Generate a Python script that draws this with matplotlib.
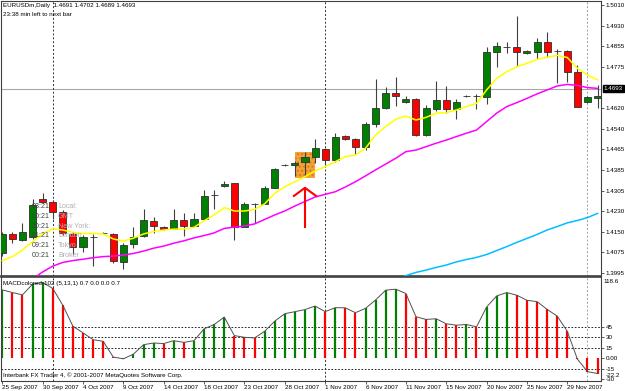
import numpy as np
import matplotlib
matplotlib.use("Agg")
import matplotlib.pyplot as plt
from matplotlib.patches import Rectangle

plt.rcParams['font.family'] = ['Liberation Sans', 'DejaVu Sans']
FS = 4.5

# ---- data ----
dates = ['25 Sep 2007', '30 Sep 2007', '4 Oct 2007', '9 Oct 2007', '14 Oct 2007',
         '18 Oct 2007', '23 Oct 2007', '28 Oct 2007', '1 Nov 2007', '6 Nov 2007',
         '11 Nov 2007', '15 Nov 2007', '20 Nov 2007', '25 Nov 2007', '29 Nov 2007']

opens = [1.4070, 1.4143, 1.4120, 1.4130, 1.4274, 1.4265, 1.4227, 1.4143, 1.4092, 1.4131,
         1.4146, 1.4143, 1.4038, 1.4104, 1.4136, 1.4192, 1.4168, 1.4162, 1.4196, 1.4173,
         1.4200, 1.4291, 1.4325, 1.4335, 1.4170, 1.4257, 1.4257, 1.4318, 1.4404, 1.4404,
         1.4415, 1.4436, 1.4465, 1.4423, 1.4514, 1.4502, 1.4474, 1.4560, 1.4619, 1.4676,
         1.4644, 1.4656, 1.4518, 1.4617, 1.4651, 1.4617, 1.4667, 1.4666, 1.4663, 1.4832,
         1.4853, 1.4851, 1.4828, 1.4832, 1.4872, 1.4837, 1.4838, 1.4756, 1.4645, 1.4657]
highs = [1.4152, 1.4152, 1.4186, 1.4274, 1.4297, 1.4270, 1.4232, 1.4152, 1.4139, 1.4143,
         1.4150, 1.4146, 1.4107, 1.4168, 1.4236, 1.4208, 1.4172, 1.4238, 1.4224, 1.4224,
         1.4310, 1.4310, 1.4345, 1.4338, 1.4265, 1.4262, 1.4325, 1.4392, 1.4408, 1.4420,
         1.4452, 1.4503, 1.4470, 1.4527, 1.4517, 1.4505, 1.4566, 1.4731, 1.4701, 1.4737,
         1.4665, 1.4660, 1.4632, 1.4724, 1.4704, 1.4655, 1.4670, 1.4675, 1.4851, 1.4870,
         1.4872, 1.4969, 1.4840, 1.4885, 1.4908, 1.4845, 1.4842, 1.4784, 1.4665, 1.4708]
lows = [1.4060, 1.4108, 1.4117, 1.4122, 1.4260, 1.4200, 1.4140, 1.4063, 1.4076, 1.4020,
        1.4141, 1.4032, 1.4009, 1.4089, 1.4133, 1.4148, 1.4158, 1.4160, 1.4136, 1.4170,
        1.4198, 1.4238, 1.4320, 1.4120, 1.4168, 1.4183, 1.4255, 1.4316, 1.4400, 1.4362,
        1.4368, 1.4411, 1.4404, 1.4417, 1.4498, 1.4446, 1.4461, 1.4550, 1.4615, 1.4628,
        1.4640, 1.4514, 1.4514, 1.4610, 1.4600, 1.4579, 1.4664, 1.4617, 1.4636, 1.4777,
        1.4828, 1.4781, 1.4825, 1.4805, 1.4813, 1.4714, 1.4720, 1.4624, 1.4640, 1.4619]
closes = [1.4143, 1.4123, 1.4152, 1.4253, 1.4265, 1.4227, 1.4148, 1.4095, 1.4130, 1.4131,
          1.4146, 1.4042, 1.4101, 1.4133, 1.4196, 1.4173, 1.4160, 1.4196, 1.4174, 1.4200,
          1.4288, 1.4291, 1.4332, 1.4168, 1.4255, 1.4257, 1.4318, 1.4389, 1.4404, 1.4411,
          1.4436, 1.4468, 1.4423, 1.4509, 1.4502, 1.4472, 1.4560, 1.4619, 1.4676, 1.4667,
          1.4655, 1.4518, 1.4619, 1.4651, 1.4617, 1.4645, 1.4667, 1.4666, 1.4832, 1.4857,
          1.4853, 1.4834, 1.4837, 1.4872, 1.4834, 1.4837, 1.4756, 1.4626, 1.4661, 1.4667]

ma_fast = [1.4042, 1.4057, 1.4082, 1.4114, 1.4143, 1.4162, 1.4158, 1.4149, 1.4145, 1.4145,
           1.4143, 1.4124, 1.4116, 1.4127, 1.4143, 1.4152, 1.4158, 1.4161, 1.4162, 1.4168,
           1.4193, 1.4215, 1.4243, 1.4230, 1.4230, 1.4236, 1.4257, 1.4297, 1.4322, 1.4341,
           1.4360, 1.4382, 1.4398, 1.4417, 1.4436, 1.4442, 1.4468, 1.4518, 1.4550, 1.4578,
           1.4590, 1.4575, 1.4585, 1.4601, 1.4603, 1.4613, 1.4626, 1.4638, 1.4689, 1.4733,
           1.4758, 1.4777, 1.4790, 1.4805, 1.4813, 1.4820, 1.4812, 1.4771, 1.4746, 1.4727]
nan = np.nan
ma_mid = [nan, nan, nan, 1.3972, 1.3999, 1.4021, 1.4035, 1.4042, 1.4047, 1.4053,
          1.4057, 1.4059, 1.4063, 1.4069, 1.4078, 1.4089, 1.4097, 1.4108, 1.4117, 1.4128,
          1.4137, 1.4147, 1.4164, 1.4169, 1.4173, 1.4181, 1.4198, 1.4215, 1.4230, 1.4249,
          1.4266, 1.4283, 1.4293, 1.4303, 1.4321, 1.4341, 1.4363, 1.4386, 1.4408, 1.4430,
          1.4455, 1.4461, 1.4474, 1.4487, 1.4499, 1.4512, 1.4525, 1.4537, 1.4569, 1.4601,
          1.4626, 1.4641, 1.4657, 1.4674, 1.4689, 1.4704, 1.4710, 1.4706, 1.4698, 1.4695]
ma_slow = [nan] * 39 + [1.3973, 1.3985, 1.3997, 1.4006, 1.4016, 1.4025, 1.4037, 1.4046, 1.4054,
                        1.4065, 1.4080, 1.4095, 1.4111, 1.4126, 1.4141, 1.4158, 1.4171, 1.4185,
                        1.4194, 1.4205, 1.4221]

macd = [98.4, 94.6, 91.2, 106.7, 109.2, 100.5, 76.1, 46.0, 36.4, 26.6,
        24.2, 1.5, -1.0, 5.8, 19.4, 21.8, 21.0, 25.2, 22.7, 25.2,
        42.2, 48.5, 59.1, 32.5, 30.0, 29.1, 38.7, 53.3, 64.1, 67.0,
        70.0, 75.1, 67.0, 72.8, 72.5, 65.5, 71.8, 83.9, 98.0, 99.4,
        93.2, 59.7, 55.8, 56.8, 49.5, 47.5, 48.5, 45.1, 73.7, 89.7,
        94.6, 90.7, 83.4, 81.5, 70.3, 60.6, 38.7, -1.5, -19.5, -22.2]

price_ticks = [1.5010, 1.4930, 1.4855, 1.4775, 1.4620, 1.4540, 1.4465, 1.4385,
               1.4305, 1.4230, 1.4150, 1.4075, 1.3995]
bid = 1.4693
macd_levels = [45, 30, 15, -15]
macd_ticks = [45, 30, 15, 0, -15, -30]
macd_tick_labels = ['45', '30', '15', '0.00', '-15', '-30']
separators = [5, 32, 58]

box_bars = (29, 31)
box_prices = (1.4356, 1.4453)
arrow_bar = 30
arrow_tip, arrow_tail, arrow_wing = 1.4318, 1.4164, 1.4287

clock_times = ['03:21', '00:21', '20:21', '01:21', '09:21', '00:21']
clock_names = ['Local:', 'GMT', 'New York:', 'London', 'Tokyo', 'Broker']

# ---- layout ----
W, H = 625, 391
fig = plt.figure(figsize=(W / 100, H / 100), dpi=100)
fig.patch.set_facecolor('white')


def fx(x):
    return x / W


def fy(y):
    return 1 - y / H


ax = fig.add_axes([fx(1.5), fy(276), (601 - 1.5) / W, (276 - 0.5) / H])
ax2 = fig.add_axes([fx(1.5), fy(381), (601 - 1.5) / W, (381 - 277) / H])

n = len(closes)
x = np.arange(n)
frame = '#404040'

# candles
for i in range(n):
    o, h, l, c = opens[i], highs[i], lows[i], closes[i]
    col = '#008000' if c >= o else '#ff0000'
    ax.vlines(i, l, h, color='#404040', lw=0.8, zorder=3)
    ax.add_patch(Rectangle((i - 0.35, min(o, c)), 0.7, abs(c - o), facecolor=col,
                           edgecolor='#303030', lw=0.6, zorder=4))

ax.add_patch(Rectangle((box_bars[0], box_prices[0]), box_bars[1] - box_bars[0],
                       box_prices[1] - box_prices[0], facecolor='#f4a238',
                       edgecolor='#d67d1c', hatch='....', lw=0, zorder=2))

ax.plot(x, ma_fast, color='#ffff00', lw=1.1, zorder=5)
ax.plot(x, ma_mid, color='#ff00ff', lw=1.1, zorder=5)
ax.plot(x, ma_slow, color='#00bfff', lw=1.1, zorder=5)

ax.axhline(bid, color='#a8a8a8', lw=0.8, zorder=1)

# red arrow
ax.plot([arrow_bar, arrow_bar], [arrow_tail, arrow_tip], color='#ff0000', lw=1.5, zorder=6,
        solid_capstyle='butt')
ax.plot([arrow_bar - 1.1, arrow_bar, arrow_bar + 1.1], [arrow_wing, arrow_tip, arrow_wing],
        color='#ff0000', lw=1.5, zorder=6)

# macd panel
up = [True] + [macd[i] > macd[i - 1] for i in range(1, n)]
ax2.vlines(x, 0, macd, colors=['#008000' if u else '#ff0000' for u in up], lw=1.6, zorder=2)
ax2.plot(x, macd, color='#505050', lw=0.7, zorder=3)
for lv in macd_levels:
    ax2.axhline(lv, color='black', lw=0.6, ls=(0, (2, 2)), zorder=1)

for b in separators:
    c = '#303030' if b != 58 else '#a095b5'
    ax.axvline(b, color=c, lw=0.7, ls=(0, (2, 2)), zorder=1)
    ax2.axvline(b, color=c, lw=0.7, ls=(0, (2, 2)), zorder=1)

for a in (ax, ax2):
    a.set_xlim(-0.08, 59.34)
    for s in a.spines.values():
        s.set_color(frame)
        s.set_linewidth(0.8)
    a.yaxis.tick_right()
    a.tick_params(axis='y', direction='out', length=2.5, width=0.6, pad=1,
                  labelsize=FS, color=frame)

ax.spines['bottom'].set_linewidth(1.2)
ax2.spines['top'].set_linewidth(1.2)

ax.set_ylim(1.39835, 1.50282)
ax.set_yticks(price_ticks)
ax.set_yticklabels(['%.4f' % p for p in price_ticks])
ax.set_xticks([])

ax.annotate('%.4f' % bid, xy=(1, bid), xycoords=('axes fraction', 'data'),
            xytext=(2, 0), textcoords='offset points', ha='left', va='center',
            color='white', fontsize=FS,
            bbox=dict(boxstyle='square,pad=0.15', fc='black', ec='black'))

ax2.set_ylim(-33.0, 117.0)
ax2.set_yticks(macd_ticks)
ax2.set_yticklabels(macd_tick_labels)
ax2.annotate('118.6', xy=(1, 1), xycoords='axes fraction', xytext=(1.5, -1.5),
             textcoords='offset points', ha='left', va='top', fontsize=FS)
ax2.annotate('-22.2', xy=(1, -24.5), xycoords=('axes fraction', 'data'), xytext=(3.5, 0),
             textcoords='offset points', ha='left', va='center', fontsize=FS)

ax2.set_xticks(np.arange(0, n, 4))
ax2.set_xticklabels(dates, ha='left')
ax2.tick_params(axis='x', direction='out', length=2, width=0.6, pad=1, labelsize=FS,
                color=frame)

# texts
fig.text(fx(3), fy(5), 'EURUSDm,Daily  1.4691 1.4702 1.4689 1.4693', fontsize=FS,
         va='center', ha='left')
fig.text(fx(3), fy(14), '23:38 min left to next bar', fontsize=FS, va='center', ha='left')
for k, (t, nm) in enumerate(zip(clock_times, clock_names)):
    yy = 206.5 + 9.8 * k
    fig.text(fx(50), fy(yy), t, fontsize=FS + 0.6, va='center', ha='right', color='#404040',
             zorder=10)
    fig.text(fx(58), fy(yy), nm, fontsize=FS + 0.6, va='center', ha='left', color='#b0b0b0',
             zorder=10)
fig.text(fx(3), fy(284), 'MACDcolored-102 (5,13,1) 0.7 0.0 0.0 0.7', fontsize=FS,
         va='center', ha='left', zorder=10)
fig.text(fx(3), fy(375), 'Interbank FX Trader 4, \u00a9 2001-2007 MetaQuotes Software Corp.',
         fontsize=FS, va='center', ha='left', zorder=10)

fig.savefig('out.png', dpi=100)
